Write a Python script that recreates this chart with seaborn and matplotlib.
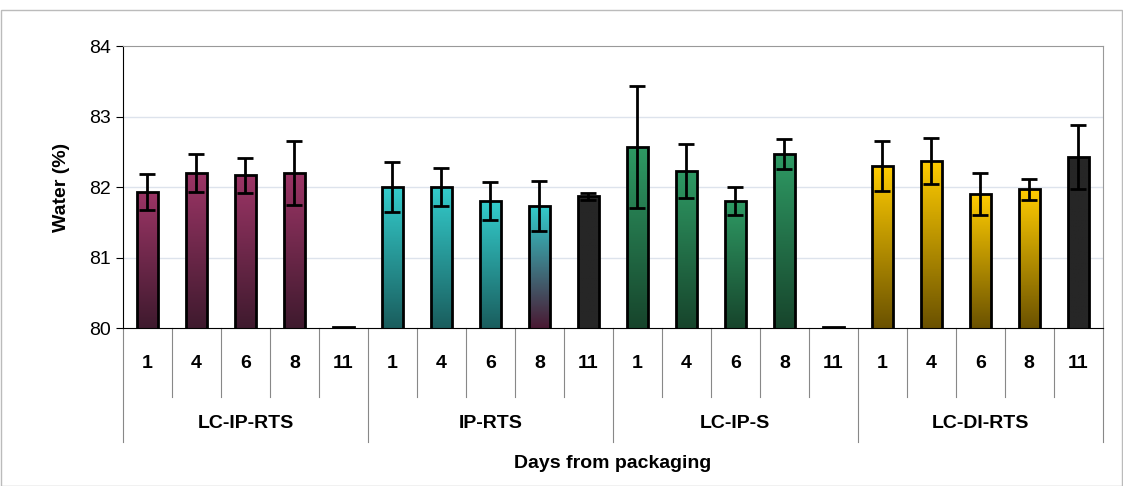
import numpy as np
import matplotlib.pyplot as plt
import matplotlib.colors as mcolors
import seaborn as sn
import pandas as pd

groups = ["LC-IP-RTS", "IP-RTS", "LC-IP-S", "LC-DI-RTS"]
days = ["1", "4", "6", "8", "11"]
water = [81.93, 82.20, 82.17, 82.20, 80.02,
         82.00, 82.00, 81.80, 81.73, 81.87,
         82.57, 82.23, 81.80, 82.47, 80.02,
         82.30, 82.37, 81.90, 81.97, 82.43]
err = [0.25, 0.27, 0.25, 0.46, 0.0,
       0.35, 0.27, 0.27, 0.35, 0.05,
       0.87, 0.38, 0.20, 0.21, 0.0,
       0.35, 0.33, 0.30, 0.15, 0.45]
top_colors = ["#9c3566"] * 5 + ["#33cccc"] * 4 + ["#262626"] + \
             ["#2e9a64"] * 5 + ["#ffcc00"] * 4 + ["#262626"]
bottom_colors = ["#3f1a2e"] * 5 + ["#1a5e5e"] * 3 + ["#4a1a33", "#262626"] + \
                ["#17452c"] * 5 + ["#6b5200"] * 4 + ["#262626"]

plt.rcParams['font.family'] = ['Liberation Sans', 'DejaVu Sans']

df = pd.DataFrame({"pos": [str(i) for i in range(20)], "water": water})

fig = plt.figure(figsize=(11.23, 4.86), dpi=100)
ax = fig.add_axes([0.1095, 0.325, 0.8725, 0.58])
sn.barplot(data=df, x="pos", y="water", ax=ax, width=0.42, color="white",
           edgecolor="black", linewidth=2, bottom=0, zorder=3)
ax.set_ylim(80, 84)
ax.set_xlim(-0.5, 19.5)

for i, p in enumerate(ax.patches):
    x0, w = p.get_x(), p.get_width()
    h = water[i]
    grad = mcolors.LinearSegmentedColormap.from_list("g", [bottom_colors[i], top_colors[i]])
    im = ax.imshow(np.linspace(0, 1, 100).reshape(-1, 1), cmap=grad, aspect="auto",
                   origin="lower", extent=[x0, x0 + w, 80, h], zorder=2)
    im.set_clip_path(p)
    p.set_facecolor("none")
    if err[i] > 0:
        ax.errorbar(i, h, yerr=err[i], color="black", capsize=6, elinewidth=2,
                    capthick=2, zorder=4)

for yv in [81, 82, 83]:
    ax.axhline(yv, color="#dde3ec", lw=1, zorder=1)
for s in ["top", "right"]:
    ax.spines[s].set_color("#999999")
ax.spines["left"].set_color("black")
ax.spines["bottom"].set_color("black")

ax.set_yticks([80, 81, 82, 83, 84])
ax.tick_params(axis="y", labelsize=14, length=5)
ax.set_xticks([])
ax.set_xlabel("")
ax.set_ylabel("Water (%)", fontsize=14, fontweight="bold", labelpad=14)

tr = ax.get_xaxis_transform()
for i in range(20):
    ax.text(i, -0.124, days[i % 5], transform=tr, ha="center", va="center",
            fontsize=14, fontweight="bold")
for k in range(21):
    y_end = -0.404 if k % 5 == 0 else -0.245
    ax.plot([k - 0.5, k - 0.5], [0, y_end], transform=tr, color="#888888",
            lw=0.8, clip_on=False)
for g, name in enumerate(groups):
    ax.text(g * 5 + 2, -0.337, name, transform=tr, ha="center", va="center",
            fontsize=14, fontweight="bold")
ax.text(9.5, -0.479, "Days from packaging", transform=tr, ha="center",
        va="center", fontsize=14, fontweight="bold")

fig.patches.append(plt.Rectangle((0.001, 0.001), 0.998, 0.978, transform=fig.transFigure,
                                 fill=False, edgecolor="#bbbbbb", lw=1))
fig.savefig("out.png", dpi=100)
